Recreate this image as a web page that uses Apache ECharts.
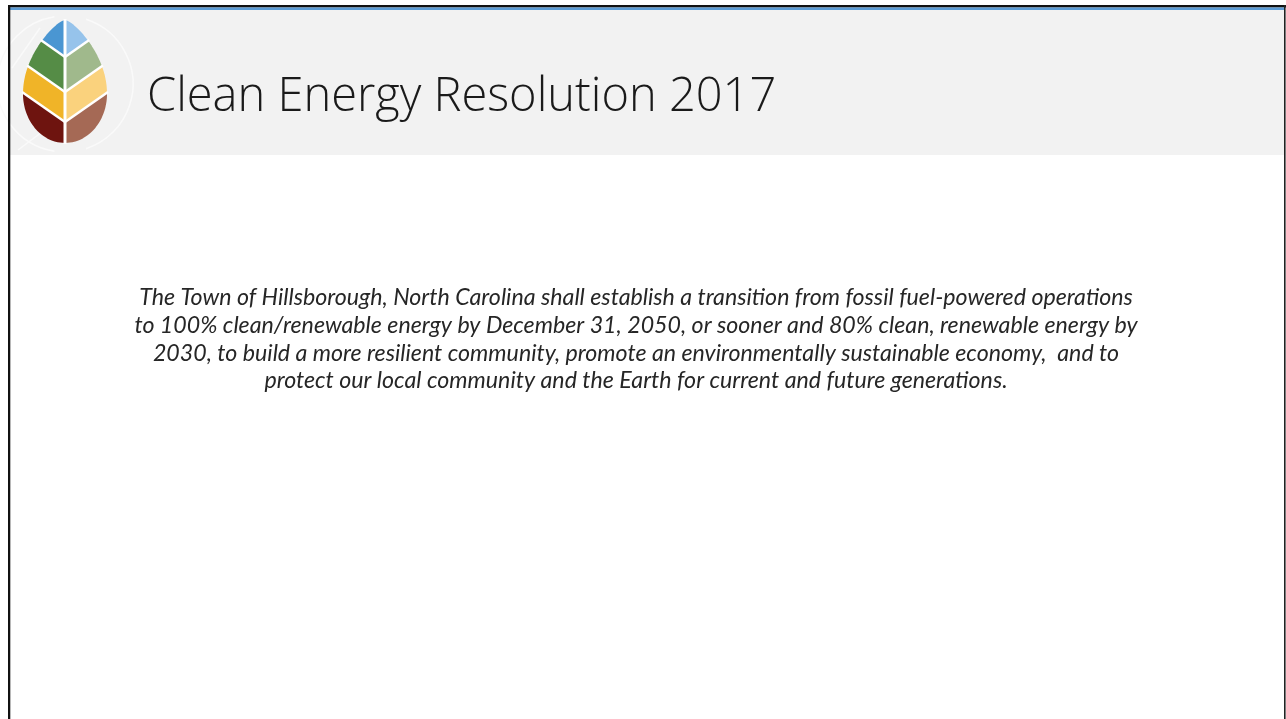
<!DOCTYPE html>
<html>
<head>
<meta charset="utf-8">
<script src="https://cdn.jsdelivr.net/npm/echarts@6/dist/echarts.min.js"></script>
<style>
  html, body { margin: 0; padding: 0; background: #fff; }
  #slide { width: 1286px; height: 719px; }
</style>
</head>
<body>
<div id="slide"></div>
<script>
var titleText = 'Clean Energy Resolution 2017'
var bodyLines = [
  'The Town of Hillsborough, North Carolina shall establish a transition from fossil fuel-powered operations',
  'to 100% clean/renewable energy by December 31, 2050, or sooner and 80% clean, renewable energy by',
  '2030, to build a more resilient community, promote an environmentally sustainable economy,  and to',
  'protect our local community and the Earth for current and future generations.'
]
// leaf logo colours, top band to bottom band
var leafLeft = ['#4a96d2', '#558c46', '#f0b428', '#6e140f']
var leafRight = ['#96c3eb', '#a0b98c', '#fad27d', '#a56955']

var myChart = echarts.init(document.getElementById('slide'))

// leaf geometry
var leafCx = 65, leafTop = 20, leafBottom = 143, leafHalfW = 42
var veinY = [57, 92, 122]
var veinSlope = 0.7

function leafWidth(t) {
  if (t < 0.6) return Math.pow(Math.sin(Math.PI / 2 * t / 0.6), 0.7)
  var u = (t - 0.6) / 0.4
  return Math.sqrt(Math.max(0, 1 - u * u))
}

var outline = []
for (var i = 0; i <= 160; i++) {
  var t = i / 160
  outline.push([leafCx - leafHalfW * leafWidth(t), leafTop + t * (leafBottom - leafTop)])
}

// where each vein meets the left outline
function crossing(yc) {
  for (var k = 1; k < outline.length; k++) {
    var a = outline[k - 1], b = outline[k]
    var fa = a[1] - (yc - veinSlope * (leafCx - a[0]))
    var fb = b[1] - (yc - veinSlope * (leafCx - b[0]))
    if (fa <= 0 && fb > 0) {
      var r = fa / (fa - fb)
      return { idx: k, pt: [a[0] + r * (b[0] - a[0]), a[1] + r * (b[1] - a[1])] }
    }
  }
}
var cross = veinY.map(crossing)

var leafParts = []
for (var band = 0; band < 4; band++) {
  var pts = []
  if (band === 0) {
    pts.push([leafCx, leafTop])
  } else {
    pts.push([leafCx, veinY[band - 1]])
    pts.push(cross[band - 1].pt)
  }
  var from = band === 0 ? 1 : cross[band - 1].idx
  var to = band === 3 ? outline.length - 1 : cross[band].idx - 1
  for (var k = from; k <= to; k++) pts.push(outline[k])
  if (band < 3) {
    pts.push(cross[band].pt)
    pts.push([leafCx, veinY[band]])
  } else {
    pts.push([leafCx, leafBottom])
  }
  leafParts.push({ type: 'polygon', shape: { points: pts }, style: { fill: leafLeft[band] } })
  var mirror = pts.map(function(p) { return [2 * leafCx - p[0], p[1]] })
  leafParts.push({ type: 'polygon', shape: { points: mirror }, style: { fill: leafRight[band] } })
}

var veins = [{
  type: 'line',
  shape: { x1: leafCx, y1: leafTop - 1, x2: leafCx, y2: leafBottom + 1 },
  style: { stroke: '#fff', lineWidth: 3 }
}]
cross.forEach(function(c, j) {
  veins.push({ type: 'line', shape: { x1: leafCx, y1: veinY[j], x2: c.pt[0] - 1, y2: c.pt[1] - 0.7 }, style: { stroke: '#fff', lineWidth: 2.5 } })
  veins.push({ type: 'line', shape: { x1: leafCx, y1: veinY[j], x2: 2 * leafCx - c.pt[0] + 1, y2: c.pt[1] - 0.7 }, style: { stroke: '#fff', lineWidth: 2.5 } })
})

// faint white lines behind the logo in the header band
var watermark = [
  { type: 'arc', shape: { cx: 65, cy: 84, r: 68, startAngle: Math.PI * 0.55, endAngle: Math.PI * 1.45 }, style: { fill: 'none', stroke: '#fafafa', lineWidth: 1.5 } },
  { type: 'arc', shape: { cx: 65, cy: 84, r: 68, startAngle: -Math.PI * 0.4, endAngle: Math.PI * 0.4 }, style: { fill: 'none', stroke: '#fafafa', lineWidth: 1.5 } },
  { type: 'line', shape: { x1: 12, y1: 68, x2: 40, y2: 28 }, style: { stroke: '#fafafa', lineWidth: 1.5 } },
  { type: 'line', shape: { x1: 18, y1: 150, x2: 42, y2: 132 }, style: { stroke: '#fafafa', lineWidth: 1.5 } }
]

var header = [
  { type: 'rect', shape: { x: 10, y: 10, width: 1274, height: 145 }, style: { fill: '#f2f2f2' } }
]
var frame = [
  { type: 'rect', shape: { x: 8, y: 5, width: 1278, height: 2.5 }, style: { fill: '#111' } },
  { type: 'rect', shape: { x: 10, y: 7.5, width: 1274, height: 2.5 }, style: { fill: '#5b9bd5' } },
  { type: 'rect', shape: { x: 8, y: 5, width: 2.3, height: 714 }, style: { fill: '#111' } },
  { type: 'rect', shape: { x: 1284, y: 5, width: 1.6, height: 714 }, style: { fill: '#222' } }
]

var texts = [{
  type: 'text',
  x: 147, y: 98,
  style: {
    text: titleText,
    font: '300 47px "Open Sans"',
    fill: '#1a1a1a',
    textVerticalAlign: 'middle'
  }
}]
bodyLines.forEach(function(line, j) {
  texts.push({
    type: 'text',
    x: 636, y: 298 + j * 27.6,
    style: {
      text: line,
      font: 'italic 23.2px Lato',
      fill: '#262626',
      textAlign: 'center',
      textVerticalAlign: 'middle'
    }
  })
})

myChart.setOption({
  backgroundColor: '#fff',
  graphic: { elements: header.concat(watermark, frame, leafParts, veins, texts) }
})
</script>
</body>
</html>
